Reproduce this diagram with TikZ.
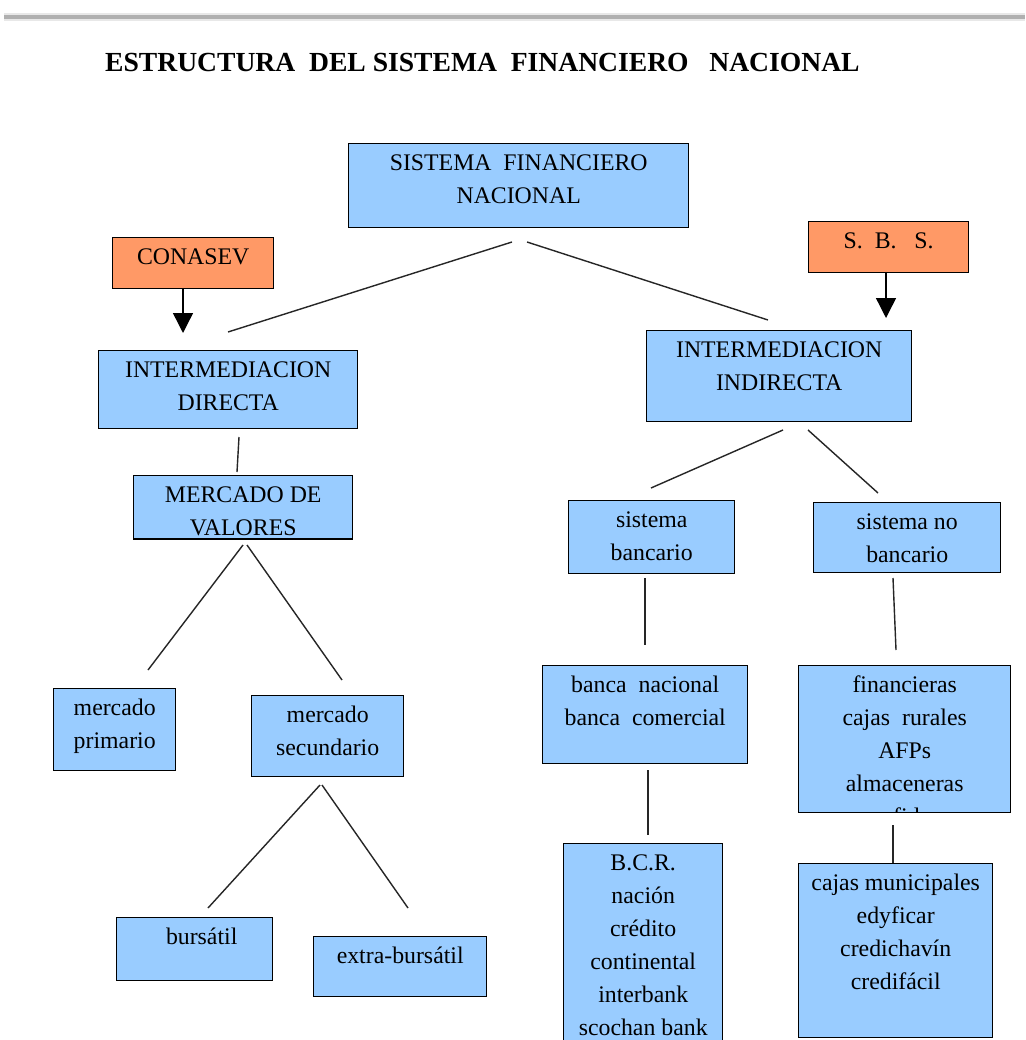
\documentclass[tikz,border=0pt]{standalone}
\usepackage{fontspec}
\setmainfont{Liberation Serif}
\usetikzlibrary{arrows.meta,calc}
\definecolor{boxblue}{HTML}{99CCFF}
\definecolor{boxorange}{HTML}{FF9966}
\definecolor{linegray}{HTML}{262626}
\tikzset{
  boxst/.style={draw=black, line width=1.4pt, inner sep=0pt, anchor=north west},
  txt/.style={font=\fontsize{23.8}{33}\selectfont, align=center, inner sep=0pt, anchor=north, text=black},
  conn/.style={draw=linegray, line width=1.4pt},
  arr/.style={draw=black, line width=1.4pt, -{Triangle[width=20pt,length=20pt]}},
}
\newcommand\mybox[7]{%
  \node[boxst, fill=#6, minimum width=#4pt, minimum height=#5pt] (#1) at (#2,#3) {};
  \node[txt] (#1t) at ($(#1.north)+(0,10)$) {\rule{0pt}{17pt}#7};
}
\begin{document}
\begin{tikzpicture}[x=1pt,y=-1pt]
\useasboundingbox (0,0) rectangle (1025,1040);
\fill[white] (0,0) rectangle (1025,1040);
% top rule
\draw[line width=8pt, gray!18] (4,17) -- (1025,17);
\draw[line width=4pt, gray!62] (4,17) -- (1025,17);
% title
\node[anchor=base west, inner sep=0pt, font=\bfseries\fontsize{27.6}{32}\selectfont] (title) at (105,72)
  {ESTRUCTURA\ \ DEL SISTEMA\ \ FINANCIERO\ \ \ NACIONAL};

\mybox{sfn}{348}{143}{340}{84}{boxblue}{SISTEMA\ \ FINANCIERO\\NACIONAL}
\mybox{conasev}{112}{237}{161}{51}{boxorange}{CONASEV}
\mybox{sbs}{808}{221}{160}{51}{boxorange}{S.\ \ B.\ \ \ S.}
\mybox{idir}{98}{350}{259}{78}{boxblue}{INTERMEDIACION\\DIRECTA}
\mybox{iind}{646}{330}{265}{91}{boxblue}{INTERMEDIACION\\INDIRECTA}
\mybox{mv}{133}{475}{219}{63}{boxblue}{MERCADO DE\\VALORES}
\draw[line width=1.4pt] (mv.south west) -- (mv.south east);
\mybox{mprim}{53}{688}{122}{82}{boxblue}{mercado\\primario}
\mybox{msec}{251}{695}{152}{81}{boxblue}{mercado\\secundario}
\mybox{burs}{116}{917}{156}{63}{boxblue}{\hspace*{14pt}bursátil}
\mybox{extra}{313}{936}{173}{60}{boxblue}{extra-bursátil}
\mybox{sban}{568}{500}{166}{73}{boxblue}{sistema\\bancario}
\mybox{snoban}{813}{502}{187}{70}{boxblue}{sistema no\\bancario}
\mybox{banca}{542}{665}{205}{98}{boxblue}{banca\ \ nacional\\banca\ \ comercial}
\mybox{finan}{798}{665}{212}{147}{boxblue}{financieras\\cajas\ \ rurales\\AFPs\\almaceneras}
\begin{scope}
  \clip (798,665) rectangle (1010,812);
  \node[txt, anchor=base west] (fid) at (893,824) {fid};
\end{scope}
\mybox{bcr}{563}{843}{159}{230}{boxblue}{B.C.R.\\nación\\crédito\\continental\\interbank\\scochan bank}
\mybox{cajas}{798}{863}{194}{174}{boxblue}{cajas municipales\\edyficar\\credichavín\\credifácil}

% arrows from supervisors
\draw[arr] (183,288) coordinate (conasevS) -- (183,333) coordinate (idirA);
\draw[arr] (886,272) coordinate (sbsS) -- (886,318) coordinate (iindA);

% connectors
\draw[conn] (512,242) coordinate (sfnL) -- (228,332) coordinate (idirN);
\draw[conn] (527,242) coordinate (sfnR) -- (768,320) coordinate (iindN);
\draw[conn] (239,437) coordinate (idirS) -- (237,472) coordinate (mvN);
\draw[conn] (243,545) coordinate (mvSL) -- (148,670) coordinate (mprimN);
\draw[conn] (247,545) coordinate (mvSR) -- (342,680) coordinate (msecN);
\draw[conn] (320,785) coordinate (msecSL) -- (208,908) coordinate (bursN);
\draw[conn] (322,785) coordinate (msecSR) -- (408,908) coordinate (extraN);
\draw[conn] (783,430) coordinate (iindSL) -- (651,488) coordinate (sbanN);
\draw[conn] (808,430) coordinate (iindSR) -- (878,493) coordinate (snobanN);
\draw[conn] (645,578) coordinate (sbanS) -- (645,645) coordinate (bancaN);
\draw[conn] (893,578) coordinate (snobanS) -- (896,650) coordinate (finanN);
\draw[conn] (648,770) coordinate (bancaS) -- (648,835) coordinate (bcrN);
\draw[conn] (893,825) coordinate (finanS) -- (cajas.north -| finanS);
\end{tikzpicture}
\end{document}
